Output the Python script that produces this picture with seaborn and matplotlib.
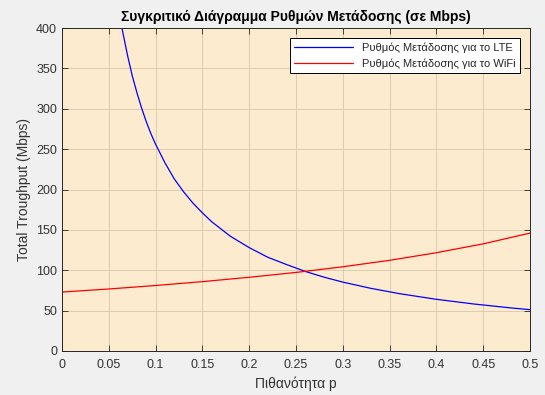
import numpy as np
import pandas as pd
import seaborn as sns
import matplotlib.pyplot as plt

# values
p_lte = [0.06, 0.064, 0.07, 0.075, 0.08, 0.085, 0.09, 0.095, 0.10, 0.11, 0.12, 0.13, 0.14,
         0.15, 0.16, 0.17, 0.18, 0.20, 0.22, 0.24, 0.26, 0.28, 0.30, 0.33, 0.36,
         0.40, 0.44, 0.48, 0.50]
lte = [427, 400, 366, 341, 320, 301, 284, 269, 256, 233, 213, 197, 183,
       171, 160, 151, 142, 128, 116, 107, 98.5, 91.4, 85.3, 77.6, 71.1,
       64.0, 58.2, 53.3, 51.2]

p_wifi = [0.0, 0.05, 0.10, 0.15, 0.20, 0.25, 0.30, 0.35, 0.40, 0.45, 0.50]
wifi = [73.0, 76.8, 81.1, 85.9, 91.3, 97.3, 104.3, 112.3, 121.7, 132.7, 146.0]

x_ticks = [0, 0.05, 0.1, 0.15, 0.2, 0.25, 0.3, 0.35, 0.4, 0.45, 0.5]
x_ticklabels = ['0', '0.05', '0.1', '0.15', '0.2', '0.25', '0.3', '0.35', '0.4', '0.45', '0.5']
y_ticks = [0, 50, 100, 150, 200, 250, 300, 350, 400]

lte_label = 'Ρυθμός Μετάδοσης για το LTE'
wifi_label = 'Ρυθμός Μετάδοσης για το WiFi'

sns.set_style('ticks')
plt.rcParams['font.family'] = ['Liberation Sans', 'DejaVu Sans']

fig = plt.figure(figsize=(5.45, 3.95), dpi=100, facecolor='#f0f0f0')
ax = fig.add_axes([0.1138, 0.1114, 0.8587, 0.8177])
ax.set_facecolor('#fdebcf')

df_lte = pd.DataFrame({'p': p_lte, 'v': lte})
df_wifi = pd.DataFrame({'p': p_wifi, 'v': wifi})
sns.lineplot(data=df_lte, x='p', y='v', ax=ax, color='#0000ff', linewidth=0.9, label=lte_label)
sns.lineplot(data=df_wifi, x='p', y='v', ax=ax, color='#ff0000', linewidth=0.9, label=wifi_label)

ax.set_xlim(0, 0.5)
ax.set_ylim(0, 400)
ax.set_xticks(x_ticks)
ax.set_xticklabels(x_ticklabels)
ax.set_yticks(y_ticks)
ax.grid(True, color='#d6c7ad', linewidth=0.6)
ax.tick_params(direction='in', top=True, right=True, length=4, width=0.6,
               colors='#262626', labelsize=9, labelcolor='#333333')
ax.tick_params(axis='x', pad=6)
for s in ax.spines.values():
    s.set_visible(True)
    s.set_color('#262626')
    s.set_linewidth(0.7)

ax.set_xlabel('Πιθανότητα p', fontsize=10, color='#333333')
ax.set_ylabel('Total Troughput (Mbps)', fontsize=10, color='#333333')
ax.set_title('Συγκριτικό Διάγραμμα Ρυθμών Μετάδοσης (σε Mbps)', fontsize=10,
             fontweight='bold', color='black', pad=5)

leg = ax.legend(loc='upper right', fontsize=8, frameon=True, fancybox=False,
                edgecolor='black', facecolor='white', framealpha=1,
                borderaxespad=0.9, handlelength=5.3)
leg.get_frame().set_linewidth(0.7)

fig.savefig('out.png', dpi=100, facecolor=fig.get_facecolor())
